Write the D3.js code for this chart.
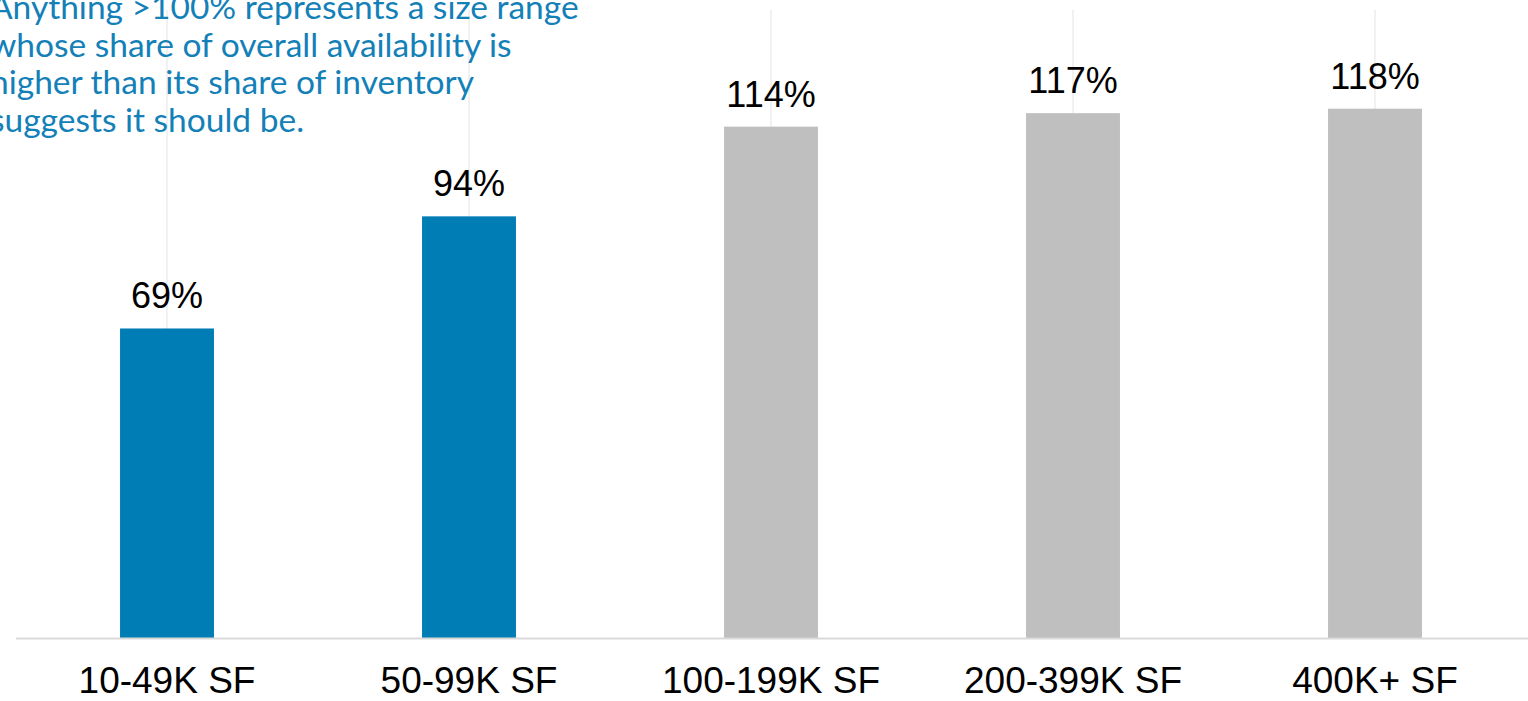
<!DOCTYPE html>
<html>
<head>
<meta charset="utf-8">
<script src="https://cdn.jsdelivr.net/npm/d3@7"></script>
<style>
  html, body { margin: 0; padding: 0; background: #fff; }
  svg { display: block; }
</style>
</head>
<body>
<svg id="chart" width="1528" height="701"></svg>
<script>
// Size ranges and their availability-to-inventory ratio (%)
const categories = ["10-49K SF", "50-99K SF", "100-199K SF", "200-399K SF", "400K+ SF"];
const ratios = [69, 94, 114, 117, 118];
const highlighted = [true, true, false, false, false];
const noteLines = [
  "Anything >100% represents a size range",
  "whose share of overall availability is",
  "higher than its share of inventory",
  "suggests it should be."
];

const W = 1528, H = 701;
const plot = { left: 16, right: 1526, top: 10, bottom: 638 };

const svg = d3.select("#chart");

const x = d3.scaleBand()
  .domain(categories)
  .range([plot.left, plot.right])
  .paddingInner(0.689)
  .paddingOuter(0.3445);

const y = d3.scaleLinear()
  .domain([0, 140])
  .range([plot.bottom, plot.top]);

// vertical gridlines through each category
svg.append("g")
  .selectAll("line")
  .data(categories)
  .join("line")
  .attr("x1", d => x(d) + x.bandwidth() / 2)
  .attr("x2", d => x(d) + x.bandwidth() / 2)
  .attr("y1", y(140))
  .attr("y2", y(0))
  .attr("stroke", "#ececec")
  .attr("stroke-width", 1.5);

// bars
svg.append("g")
  .selectAll("rect")
  .data(categories)
  .join("rect")
  .attr("x", d => x(d))
  .attr("width", x.bandwidth())
  .attr("y", (d, i) => y(ratios[i]))
  .attr("height", (d, i) => y(0) - y(ratios[i]))
  .attr("fill", (d, i) => highlighted[i] ? "#007db4" : "#bfbfbf");

// value labels
svg.append("g")
  .selectAll("text")
  .data(categories)
  .join("text")
  .attr("x", d => x(d) + x.bandwidth() / 2)
  .attr("y", (d, i) => y(ratios[i]) - 20)
  .attr("text-anchor", "middle")
  .attr("font-family", "'Liberation Sans', Arial, sans-serif")
  .attr("font-size", 36)
  .attr("fill", "#000")
  .text((d, i) => ratios[i] + "%");

// category axis
const xAxis = d3.axisBottom(x).tickSize(0).tickPadding(0);
const gx = svg.append("g")
  .attr("transform", `translate(0,${plot.bottom})`)
  .call(xAxis);
gx.select(".domain")
  .attr("d", `M${plot.left},0.5H${W}`)
  .attr("stroke", "#d9d9d9")
  .attr("stroke-width", 2);
gx.selectAll(".tick text")
  .attr("dy", 0)
  .attr("y", 55)
  .attr("font-family", "'Liberation Sans', Arial, sans-serif")
  .attr("font-size", 37)
  .attr("fill", "#000");

// explanatory note
svg.append("text")
  .attr("font-family", "Lato, sans-serif")
  .attr("font-size", 33.5)
  .attr("fill", "#1380b8")
  .selectAll("tspan")
  .data(noteLines)
  .join("tspan")
  .attr("x", -10)
  .attr("y", (d, i) => 19 + i * 37.5)
  .text(d => d);
</script>
</body>
</html>
